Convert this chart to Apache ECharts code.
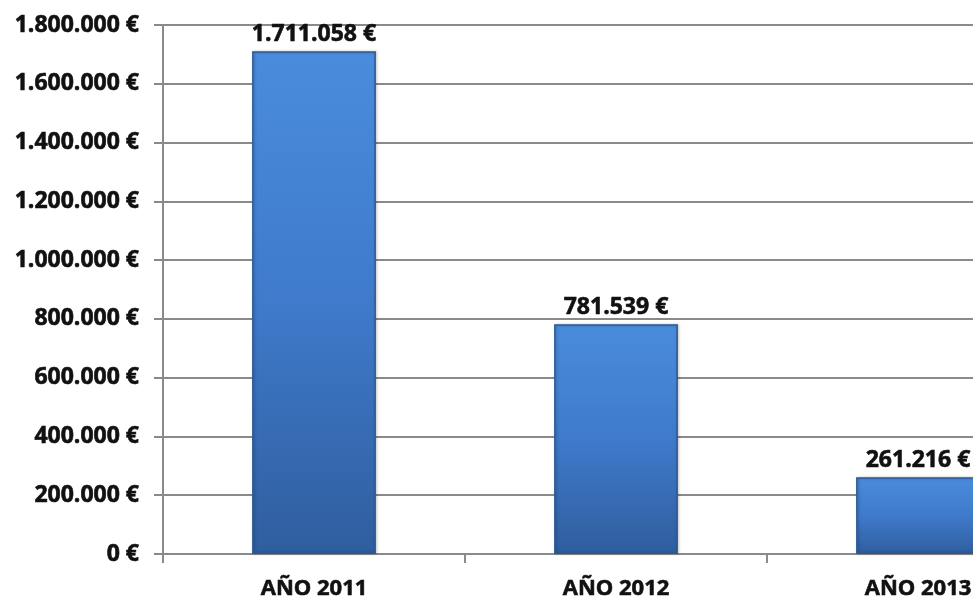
<!DOCTYPE html>
<html>
<head>
<meta charset="utf-8">
<script src="https://cdn.jsdelivr.net/npm/echarts@6/dist/echarts.min.js"></script>
<style>
  html, body { margin: 0; padding: 0; background: #fff; }
  #chart { width: 973px; height: 607px; }
</style>
</head>
<body>
<div id="chart"></div>
<script>
// Importe anual por ejercicio
const categories = ['AÑO 2011', 'AÑO 2012', 'AÑO 2013'];
const values = [1711058, 781539, 261216];
const yTicks = [0, 200000, 400000, 600000, 800000, 1000000, 1200000, 1400000, 1600000, 1800000];

// 1234567 -> "1.234.567 €"
function euro(v) {
  return String(Math.round(v)).replace(/\B(?=(\d{3})+(?!\d))/g, '.') + ' €';
}

const FONT = 'Open Sans';
const heavyText = {
  color: '#111',
  fontFamily: FONT,
  fontWeight: 'bold',
  textBorderColor: '#111',
  textBorderWidth: 0.6
};
const chart = echarts.init(document.getElementById('chart'));

chart.setOption({
  animation: false,
  // the plot runs past the right edge of the canvas, cutting the last column
  grid: {
    left: 163, top: 25, width: 906, bottom: 53,
    containLabel: false,
    outerBoundsMode: 'none'
  },
  xAxis: {
    type: 'category',
    data: categories,
    boundaryGap: true,
    axisLine: { lineStyle: { color: '#8a8a8a', width: 2 } },
    axisTick: { show: true, length: 9, lineStyle: { color: '#8a8a8a', width: 2 } },
    axisLabel: Object.assign({ margin: 24, fontSize: 22 }, heavyText),
    splitLine: { show: false }
  },
  yAxis: {
    type: 'value',
    min: yTicks[0],
    max: yTicks[yTicks.length - 1],
    interval: yTicks[1] - yTicks[0],
    axisLine: { show: true, lineStyle: { color: '#8a8a8a', width: 2 } },
    axisTick: { show: true, length: 9, lineStyle: { color: '#8a8a8a', width: 2 } },
    axisLabel: Object.assign({ margin: 24, fontSize: 23, formatter: euro }, heavyText),
    splitLine: { show: true, lineStyle: { color: '#8a8a8a', width: 2 } }
  },
  series: [{
    type: 'bar',
    data: values,
    barCategoryGap: '59%',
    itemStyle: {
      color: new echarts.graphic.LinearGradient(0, 0, 0, 1, [
        { offset: 0, color: '#4a8cdc' },
        { offset: 0.5, color: '#3f7acb' },
        { offset: 1, color: '#2f5e9e' }
      ]),
      borderColor: '#2c5a96',
      borderWidth: 1.5,
      shadowColor: 'rgba(0,0,0,0.25)',
      shadowBlur: 3,
      shadowOffsetX: 1
    },
    label: Object.assign({
      show: true,
      position: 'top',
      distance: 5,
      fontSize: 23,
      formatter: p => euro(p.value)
    }, heavyText)
  }]
});
</script>
</body>
</html>
